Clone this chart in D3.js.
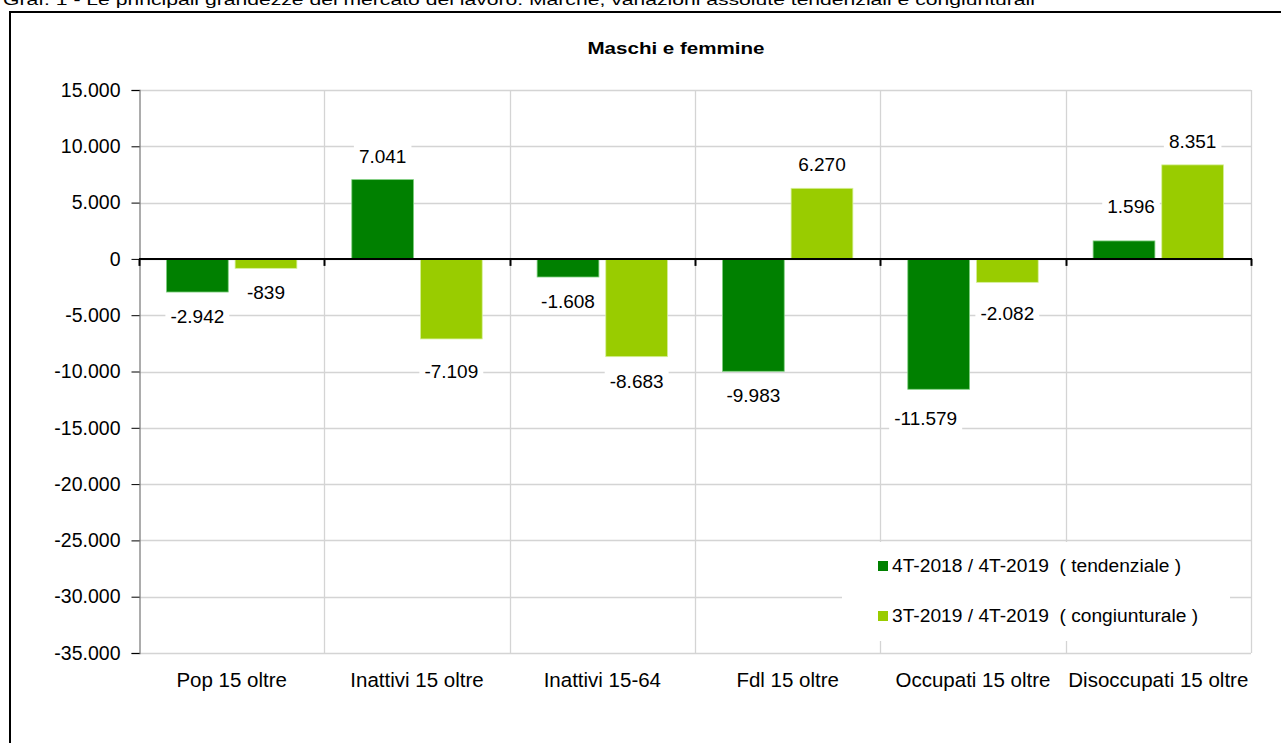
<!DOCTYPE html>
<html>
<head>
<meta charset="utf-8">
<script src="https://cdn.jsdelivr.net/npm/d3@7"></script>
<style>
  html, body { margin: 0; padding: 0; background: #fff; }
  svg { display: block; font-family: "Liberation Sans", Arial, sans-serif; }
  .pre { white-space: pre; }
</style>
</head>
<body>
<svg id="chart" width="1281" height="743"></svg>
<script>
// ---- data ----
const categories = ["Pop 15 oltre", "Inattivi 15 oltre", "Inattivi 15-64", "Fdl 15 oltre", "Occupati 15 oltre", "Disoccupati 15 oltre"];
const seriesNames = ["4T-2018 / 4T-2019  ( tendenziale )", "3T-2019 / 4T-2019  ( congiunturale )"];
const tendenziale = [-2942, 7041, -1608, -9983, -11579, 1596];
const congiunturale = [-839, -7109, -8683, 6270, -2082, 8351];
const yTicks = [15000, 10000, 5000, 0, -5000, -10000, -15000, -20000, -25000, -30000, -35000];
const chartTitle = "Maschi e femmine";
const pageTitle = "Graf. 1 - Le principali grandezze del mercato del lavoro. Marche, variazioni assolute tendenziali e congiunturali";

// ---- layout / style ----
const colors = ["#008000", "#99CC00"];
const strokes = ["#7fcf7f", "#d6ef9a"];
const plot = { left: 139, right: 1251, top: 90, bottom: 653 };
// manual label nudges (dx, dy) per series/category, as in the original
const labelNudge = [
  [[0, 0], [0, 0], [0, 0], [0, 0], [-13, 5], [7, -11]],
  [[0, 0], [0, 8], [0, 0], [0, 0], [0, 7], [0, 0]]
];

const svg = d3.select("#chart");
const fmt = d3.formatLocale({ decimal: ",", thousands: ".", grouping: [3], currency: ["", ""], minus: "-" }).format(",d");

// frame + page title
svg.append("text").attr("x", 3).attr("y", 5).attr("font-size", 14).attr("fill", "#000")
  .attr("textLength", 1032).attr("lengthAdjust", "spacingAndGlyphs").text(pageTitle);
svg.append("line").attr("x1", 10).attr("x2", 1281).attr("y1", 12).attr("y2", 12).attr("stroke", "#000").attr("stroke-width", 2);
svg.append("line").attr("x1", 10).attr("x2", 10).attr("y1", 11).attr("y2", 743).attr("stroke", "#000").attr("stroke-width", 2);

svg.append("text").attr("x", 676).attr("y", 54).attr("text-anchor", "middle")
  .attr("font-size", 17).attr("font-weight", "bold")
  .attr("textLength", 177).attr("lengthAdjust", "spacingAndGlyphs").text(chartTitle);

const y = d3.scaleLinear().domain([-35000, 15000]).range([plot.bottom, plot.top]);
const x0 = d3.scaleBand().domain(categories).range([plot.left, plot.right]).padding(0);
const x1 = d3.scaleBand().domain([0, 1]).range([0, x0.bandwidth()]).paddingInner(0.1).paddingOuter(0.4);

// horizontal gridlines
svg.append("g").selectAll("line").data(yTicks).join("line")
  .attr("x1", plot.left).attr("x2", plot.right)
  .attr("y1", d => Math.round(y(d)) + 0.5).attr("y2", d => Math.round(y(d)) + 0.5)
  .attr("stroke", "#d4d4d4").attr("stroke-width", 1.3);
// vertical gridlines
const bounds = categories.map(c => x0(c)).concat([plot.right]);
svg.append("g").selectAll("line").data(bounds.slice(1)).join("line")
  .attr("x1", d => Math.round(d) + 0.5).attr("x2", d => Math.round(d) + 0.5)
  .attr("y1", plot.top).attr("y2", plot.bottom)
  .attr("stroke", "#d4d4d4").attr("stroke-width", 1.3);

// y axis
const yAxis = d3.axisLeft(y).tickValues(yTicks).tickFormat(fmt).tickSize(8).tickPadding(11);
const gy = svg.append("g").attr("transform", `translate(${plot.left + 0.5},0)`).call(yAxis);
gy.select(".domain").attr("stroke", "#808080").attr("stroke-width", 1.3);
gy.selectAll(".tick line").attr("stroke", "#000");
gy.selectAll(".tick text").attr("font-size", 19.5).attr("fill", "#000").attr("font-family", "Liberation Sans, Arial, sans-serif");

// bars
const seriesData = [tendenziale, congiunturale];
seriesData.forEach((vals, s) => {
  svg.append("g").selectAll("rect").data(vals).join("rect")
    .attr("x", (d, i) => x0(categories[i]) + x1(s))
    .attr("width", x1.bandwidth())
    .attr("y", d => y(Math.max(0, d)))
    .attr("height", d => Math.abs(y(d) - y(0)))
    .attr("fill", colors[s])
    .attr("stroke", strokes[s]).attr("stroke-width", 0.8);
});

// zero axis with category ticks
svg.append("line").attr("x1", plot.left).attr("x2", plot.right + 1)
  .attr("y1", y(0)).attr("y2", y(0)).attr("stroke", "#000").attr("stroke-width", 2);
svg.append("g").selectAll("line").data(bounds).join("line")
  .attr("x1", d => Math.round(d) + 0.5).attr("x2", d => Math.round(d) + 0.5)
  .attr("y1", y(0)).attr("y2", y(0) + 7).attr("stroke", "#000").attr("stroke-width", 2);

// x category labels
svg.append("g").selectAll("text").data(categories).join("text")
  .attr("x", d => x0(d) + x0.bandwidth() / 2).attr("y", 687)
  .attr("text-anchor", "middle").attr("font-size", 20.5).text(d => d);

// data labels
seriesData.forEach((vals, s) => {
  const g = svg.append("g");
  vals.forEach((d, i) => {
    const cx = x0(categories[i]) + x1(s) + x1.bandwidth() / 2 + labelNudge[s][i][0];
    const cy = (d >= 0 ? y(d) - 24 : y(d) + 24) + labelNudge[s][i][1];
    const t = g.append("text").attr("x", cx).attr("y", cy + 7)
      .attr("text-anchor", "middle").attr("font-size", 19).text(fmt(d));
    const bb = t.node().getBBox();
    g.insert("rect", "text").attr("x", bb.x - 5).attr("y", cy - 12).attr("width", bb.width + 10).attr("height", 24).attr("fill", "#fff");
  });
});

// legend
const lg = svg.append("g");
lg.append("rect").attr("x", 842).attr("y", 542).attr("width", 388).attr("height", 99).attr("fill", "#fff");
seriesNames.forEach((n, s) => {
  const ly = 565 + s * 50;
  lg.append("rect").attr("x", 878).attr("y", ly - 4).attr("width", 10).attr("height", 10).attr("fill", colors[s]);
  lg.append("text").attr("class", "pre").attr("x", 892).attr("y", ly + 7).attr("font-size", 19.2).text(n);
});
</script>
</body>
</html>
